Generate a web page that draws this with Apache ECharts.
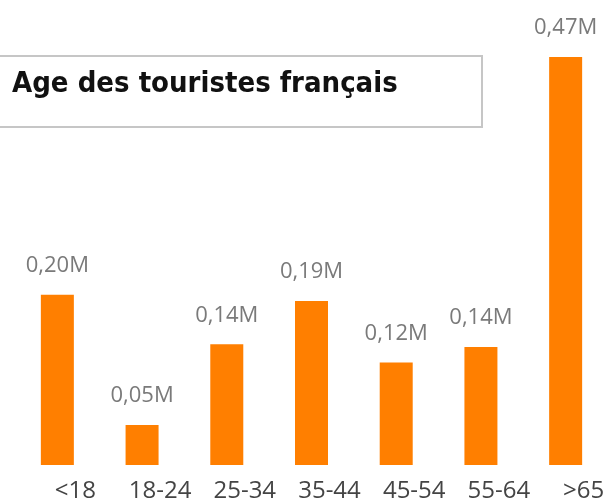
<!DOCTYPE html>
<html>
<head>
<meta charset="utf-8">
<script src="https://cdn.jsdelivr.net/npm/echarts@6/dist/echarts.min.js"></script>
<style>
  html, body { margin: 0; padding: 0; background: #fff; }
  #chart { width: 608px; height: 503px; }
</style>
</head>
<body>
<div id="chart"></div>
<script>
// age groups and number of tourists (millions)
var categories = ['<18', '18-24', '25-34', '35-44', '45-54', '55-64', '>65'];
var values = [0.196, 0.046, 0.139, 0.189, 0.118, 0.136, 0.47];
var titleText = 'Age des touristes français';

var myChart = echarts.init(document.getElementById('chart'));
var option = {
    backgroundColor: '#fff',
    animation: false,
    title: {
        text: titleText,
        left: 12,
        top: 70,
        padding: 0,
        textStyle: {
            fontFamily: '"DejaVu Sans Condensed", "DejaVu Sans"',
            fontWeight: 'bold',
            fontSize: 29,
            color: '#111'
        }
    },
    graphic: [{
        type: 'rect',
        z: -1,
        shape: { x: -2, y: 56, width: 484, height: 71 },
        style: { fill: '#fff', stroke: '#c6c6c6', lineWidth: 2 }
    }],
    grid: { left: 15, right: 0, top: 31, bottom: 37 },
    xAxis: {
        type: 'category',
        data: categories,
        axisLine: { show: false },
        axisTick: { show: false },
        axisLabel: {
            margin: 14,
            padding: [0, 0, 0, 36],
            fontFamily: 'Open Sans',
            fontSize: 24,
            color: '#444'
        }
    },
    yAxis: {
        type: 'value',
        min: 0,
        max: 0.5,
        show: false,
        splitLine: { show: false }
    },
    series: [{
        type: 'bar',
        data: values,
        barWidth: 33,
        itemStyle: { color: '#ff7f00' },
        label: {
            show: true,
            position: 'top',
            distance: 18,
            fontFamily: 'Open Sans',
            fontSize: 22,
            color: '#7a7a7a',
            formatter: function (p) {
                return p.value.toFixed(2).replace('.', ',') + 'M';
            }
        }
    }]
};
myChart.setOption(option);
</script>
</body>
</html>
